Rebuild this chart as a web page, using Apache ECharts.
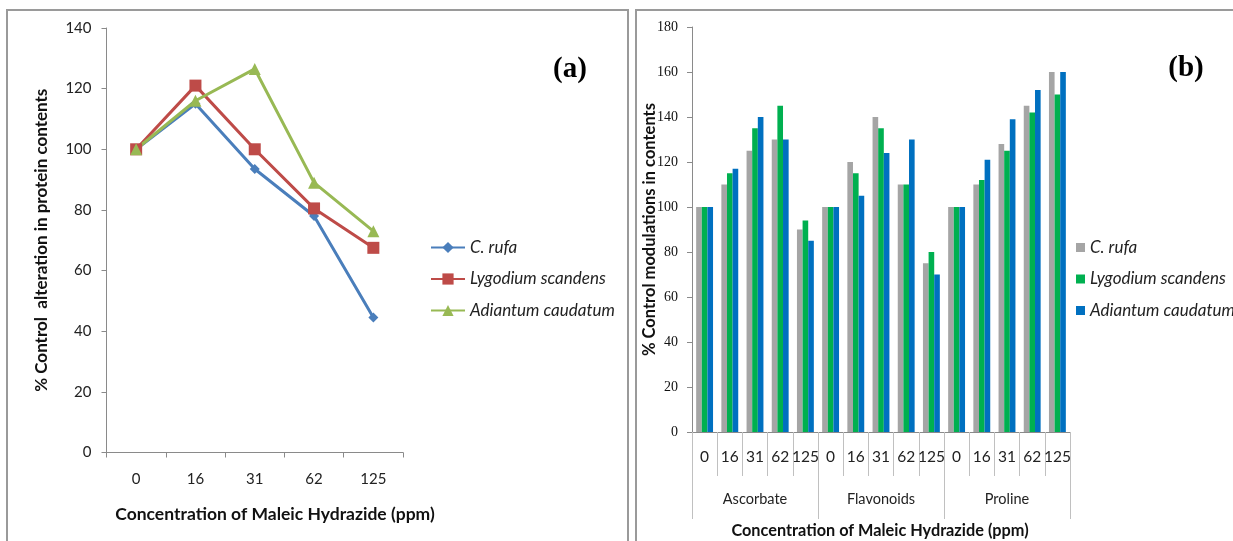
<!DOCTYPE html>
<html><head><meta charset="utf-8">
<script src="https://cdn.jsdelivr.net/npm/echarts@6/dist/echarts.min.js"></script>
<style>
html,body{margin:0;padding:0;background:#fff;width:1233px;height:541px;overflow:hidden}
.c{position:absolute;left:0;top:0;width:1233px;height:541px}
.box{position:absolute;border:2px solid #9a9a9a;box-sizing:border-box;background:#fff}
</style></head><body>
<div class="box" style="left:6px;top:9px;width:623px;height:560px"></div>
<div class="box" style="left:635px;top:9px;width:620px;height:560px"></div>
<div id="a" class="c"></div>
<div id="b" class="c"></div>
<script>
// ---- data ----
const concentrations = ['0', '16', '31', '62', '125'];
const seriesNames = ['C. rufa', 'Lygodium scandens', 'Adiantum caudatum'];
// panel (a): protein contents
const proteinCRufa = [100, 115, 93.5, 78, 44.5];
const proteinLygodium = [100, 121, 100, 80.5, 67.5];
const proteinAdiantum = [100, 116, 126.5, 89, 73];
// panel (b): Ascorbate | Flavonoids | Proline, each at 0,16,31,62,125 ppm
const groups = ['Ascorbate', 'Flavonoids', 'Proline'];
const modCRufa = [100, 110, 125, 130, 90, 100, 120, 140, 110, 75, 100, 110, 128, 145, 160];
const modLygodium = [100, 115, 135, 145, 94, 100, 115, 135, 110, 80, 100, 112, 125, 142, 150];
const modAdiantum = [100, 117, 140, 130, 85, 100, 105, 124, 130, 70, 100, 121, 139, 152, 160];
const yTicksA = {min: 0, max: 140, interval: 20};
const yTicksB = {min: 0, max: 180, interval: 20};

const sans = 'Lato';
const serif = 'Liberation Serif';
const axisGray = '#8a8a8a';
const tickGray = '#c0c0c0';

// ---- panel (a) ----
const lineColors = ['#4A7EBB', '#BE4B48', '#98B954'];
const lineSymbols = ['diamond', 'rect', 'triangle'];
const lineSizes = [10, 12, 12];
const lineData = [proteinCRufa, proteinLygodium, proteinAdiantum];
const chartA = echarts.init(document.getElementById('a'), null, {renderer: 'canvas'});
chartA.setOption({
  animation: false,
  grid: {left: 106.5, top: 28, width: 296.5, height: 424.5},
  xAxis: {
    type: 'category', data: concentrations, boundaryGap: true,
    axisLine: {lineStyle: {color: axisGray, width: 1}},
    axisTick: {show: true, length: 5, interval: 0, lineStyle: {color: axisGray}},
    axisLabel: {margin: 19, fontSize: 15, color: '#222', fontFamily: sans}
  },
  yAxis: {
    type: 'value', min: yTicksA.min, max: yTicksA.max, interval: yTicksA.interval,
    splitLine: {show: false},
    axisLine: {show: true, lineStyle: {color: axisGray, width: 1}},
    axisTick: {show: true, length: 5, lineStyle: {color: axisGray}},
    axisLabel: {margin: 15, fontSize: 15, color: '#222', fontFamily: sans},
    name: '% Control  alteration in protein contents', nameLocation: 'middle', nameGap: 56,
    nameTextStyle: {fontSize: 17, fontWeight: 'bold', fontFamily: sans, color: '#111'}
  },
  legend: {
    orient: 'vertical', left: 430, top: 239, padding: 0, itemWidth: 34, itemHeight: 14, itemGap: 14.5,
    data: seriesNames,
    textStyle: {fontSize: 17, fontStyle: 'italic', fontFamily: sans, color: '#222'}
  },
  series: seriesNames.map((n, i) => ({
    name: n, type: 'line', data: lineData[i],
    symbol: lineSymbols[i], symbolSize: lineSizes[i],
    lineStyle: {width: 3, color: lineColors[i]},
    itemStyle: {color: lineColors[i]}
  })),
  graphic: [
    {type: 'text', x: 570, y: 70, style: {text: '(a)', font: 'bold 29px "Liberation Serif"', fill: '#000', textAlign: 'center', textVerticalAlign: 'middle'}},
    {type: 'text', x: 275, y: 514, style: {text: 'Concentration of Maleic Hydrazide (ppm)', font: 'bold 17.5px Lato', fill: '#111', textAlign: 'center', textVerticalAlign: 'middle'}}
  ]
});

// ---- panel (b) ----
const barColors = ['#A5A5A5', '#00B050', '#0070C0'];
const barData = [modCRufa, modLygodium, modAdiantum];
const groupedConcentrations = groups.flatMap(() => concentrations);
const chartB = echarts.init(document.getElementById('b'), null, {renderer: 'canvas'});
chartB.setOption({
  animation: false,
  grid: {left: 692, top: 27, width: 378, height: 405},
  xAxis: [
    {
      type: 'category', data: groupedConcentrations, boundaryGap: true,
      axisLine: {lineStyle: {color: axisGray, width: 1}},
      axisTick: {show: true, length: 44, interval: 0, lineStyle: {color: tickGray}},
      axisLabel: {interval: 0, margin: 17, fontSize: 15.5, color: '#222', fontFamily: sans}
    },
    {
      type: 'category', data: groups, position: 'bottom', boundaryGap: true,
      axisLine: {show: false},
      axisTick: {show: true, length: 87, interval: 0, lineStyle: {color: tickGray}},
      axisLabel: {interval: 0, margin: 60, fontSize: 14.5, color: '#222', fontFamily: sans}
    }
  ],
  yAxis: {
    type: 'value', min: yTicksB.min, max: yTicksB.max, interval: yTicksB.interval,
    splitLine: {show: false},
    axisLine: {show: true, lineStyle: {color: axisGray, width: 1}},
    axisTick: {show: true, length: 5, lineStyle: {color: axisGray}},
    axisLabel: {margin: 14, fontSize: 14, color: '#111', fontFamily: serif},
    name: '% Control modulations in contents', nameLocation: 'middle', nameGap: 34,
    nameMoveOverlap: false,
    nameTextStyle: {fontSize: 16.5, fontWeight: 'bold', fontFamily: sans, color: '#111'}
  },
  legend: {
    orient: 'vertical', left: 1076, top: 239, padding: 0, itemWidth: 9, itemHeight: 9, itemGap: 14.5,
    icon: 'rect', data: seriesNames,
    textStyle: {fontSize: 17, fontStyle: 'italic', fontFamily: sans, color: '#222'}
  },
  series: seriesNames.map((n, i) => ({
    name: n, type: 'bar', data: barData[i], xAxisIndex: 0,
    barGap: '0%', barCategoryGap: '33%',
    itemStyle: {color: barColors[i]}
  })),
  graphic: [
    {type: 'text', x: 1186, y: 69, style: {text: '(b)', font: 'bold 29px "Liberation Serif"', fill: '#000', textAlign: 'center', textVerticalAlign: 'middle'}},
    {type: 'text', x: 880, y: 531, style: {text: 'Concentration of Maleic Hydrazide (ppm)', font: 'bold 16.3px Lato', fill: '#111', textAlign: 'center', textVerticalAlign: 'middle'}}
  ]
});
</script>
</body></html>
